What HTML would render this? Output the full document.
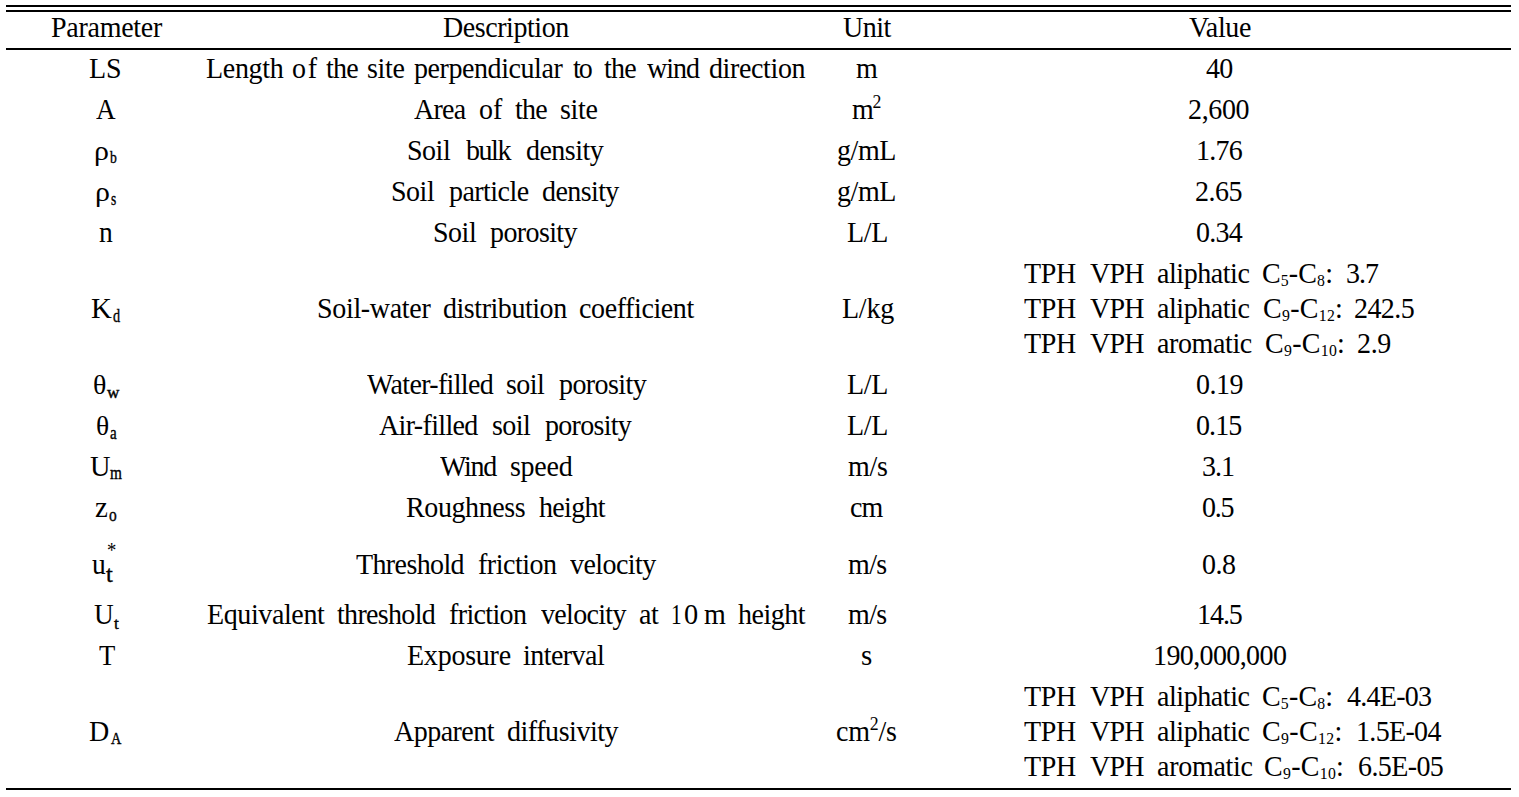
<!DOCTYPE html>
<html><head><meta charset="utf-8"><style>
html,body{margin:0;padding:0;background:#fff;}
body{width:1519px;height:797px;position:relative;overflow:hidden;}
.r{position:absolute;left:6px;width:1505px;background:#000;}
.t{position:absolute;white-space:nowrap;font-family:"Liberation Serif",serif;font-size:28px;line-height:28px;color:#000;font-variant-ligatures:none;transform-origin:0 0;}
.s{position:relative;line-height:0;}
</style></head><body>
<div class="r" style="top:5px;height:2px"></div><div class="r" style="top:10px;height:2px"></div><div class="r" style="top:48px;height:2px"></div><div class="r" style="top:788px;height:2px"></div>
<div class="t" id="h1" style="left:50.58px;top:14.00px;font-size:28.4px;letter-spacing:-0.278px;transform:scaleX(0.9859)">Parameter</div>
<div class="t" id="h2" style="left:442.58px;top:14.00px;font-size:28.4px;letter-spacing:-0.440px;transform:scaleX(0.9859)">Description</div>
<div class="t" id="h3" style="left:843.00px;top:14.00px;font-size:28.4px;letter-spacing:-0.513px;transform:scaleX(0.9859)">Unit</div>
<div class="t" id="h4" style="left:1189.00px;top:14.00px;font-size:28.4px;letter-spacing:-0.322px;transform:scaleX(0.9859)">Value</div>
<div class="t" id="p1" style="left:89.27px;top:55.00px;font-size:28.4px;letter-spacing:-0.021px;transform:scaleX(0.9859)">LS</div>
<div class="t" id="p2" style="left:95.70px;top:96.00px;font-size:28.4px;transform:scaleX(0.9562)">A</div>
<div class="t" id="p5" style="left:99.20px;top:219.00px;font-size:28.4px;transform:scaleX(0.9692)">n</div>
<div class="t" id="p13" style="left:98.60px;top:642.00px;font-size:28.4px;transform:scaleX(0.9385)">T</div>
<div class="t" id="p3m" style="left:94.49px;top:137.00px;font-size:28.08px;transform:scaleX(1.0685)">&rho;</div>
<div class="t" id="p3s" style="left:110.30px;top:143.46px;font-size:17.478529198236266px;transform:scaleX(0.7818);-webkit-text-stroke:0.4px #000">b</div>
<div class="t" id="p4m" style="left:95.49px;top:178.00px;font-size:28.08px;transform:scaleX(1.0685)">&rho;</div>
<div class="t" id="p4s" style="left:111.06px;top:184.96px;font-size:18.34865132072097px;transform:scaleX(0.7310);-webkit-text-stroke:0.4px #000">s</div>
<div class="t" id="p6m" style="left:90.88px;top:295.00px;font-size:28.4px;transform:scaleX(1.0186)">K</div>
<div class="t" id="p6s" style="left:113.39px;top:302.30px;font-size:18.455364086009826px;transform:scaleX(0.7716);-webkit-text-stroke:0.4px #000">d</div>
<div class="t" id="p7m" style="left:92.86px;top:371.00px;font-size:28.037098053491697px;transform:scaleX(0.9959)">&theta;</div>
<div class="t" id="p7s" style="left:106.80px;top:379.20px;font-size:15.784438775510202px;transform:scaleX(1.0885);-webkit-text-stroke:0.4px #000">w</div>
<div class="t" id="p8m" style="left:95.84px;top:412.00px;font-size:28.037098053491697px;transform:scaleX(0.9825)">&theta;</div>
<div class="t" id="p8s" style="left:110.09px;top:418.78px;font-size:18.701993639278935px;transform:scaleX(0.8060);-webkit-text-stroke:0.4px #000">a</div>
<div class="t" id="p9m" style="left:89.80px;top:453.00px;font-size:28.4px;transform:scaleX(0.9998)">U</div>
<div class="t" id="p9s" style="left:109.50px;top:459.10px;font-size:19.191005020421674px;transform:scaleX(0.7973);-webkit-text-stroke:0.4px #000">m</div>
<div class="t" id="p10m" style="left:94.86px;top:494.00px;font-size:28.4px;transform:scaleX(1.0202)">z</div>
<div class="t" id="p10s" style="left:108.69px;top:500.96px;font-size:18.277958711015486px;transform:scaleX(0.8458);-webkit-text-stroke:0.4px #000">o</div>
<div class="t" id="p11m" style="left:92.40px;top:551.20px;font-size:28.4px;transform:scaleX(0.9694)">u</div>
<div class="t" id="p11s" style="left:106.00px;top:561.48px;font-size:22.612814692915705px;transform:scaleX(1.0733);-webkit-text-stroke:0.4px #000">t</div>
<div class="t" id="p11a" style="left:107.00px;top:535.80px;font-size:21.844087282265267px;transform:scaleX(0.8528)">*</div>
<div class="t" id="p12m" style="left:94.00px;top:601.00px;font-size:28.4px;transform:scaleX(0.9620)">U</div>
<div class="t" id="p12s" style="left:114.10px;top:609.30px;font-size:17.695692887418833px;transform:scaleX(0.9731);-webkit-text-stroke:0.4px #000">t</div>
<div class="t" id="p14m" style="left:89.00px;top:718.00px;font-size:28.4px;transform:scaleX(0.9887)">D</div>
<div class="t" id="p14s" style="left:110.50px;top:724.98px;font-size:17.362100715007738px;transform:scaleX(0.8223);-webkit-text-stroke:0.4px #000">A</div>
<div class="t" id="d1_0" style="left:205.58px;top:55.00px;font-size:28.4px;letter-spacing:-0.306px;transform:scaleX(0.9859)">Length</div>
<div class="t" id="d1_1" style="left:292.36px;top:55.00px;font-size:28.4px;letter-spacing:1.725px;transform:scaleX(0.9859)">of</div>
<div class="t" id="d1_2" style="left:326.00px;top:55.00px;font-size:28.4px;letter-spacing:-0.771px;transform:scaleX(0.9859)">the</div>
<div class="t" id="d1_3" style="left:367.45px;top:55.00px;font-size:28.4px;letter-spacing:-0.339px;transform:scaleX(0.9859)">site</div>
<div class="t" id="d1_4" style="left:414.00px;top:55.00px;font-size:28.4px;letter-spacing:-0.432px;transform:scaleX(0.9859)">perpendicular</div>
<div class="t" id="d1_5" style="left:573.00px;top:55.00px;font-size:28.4px;letter-spacing:-2.049px;transform:scaleX(0.9859)">to</div>
<div class="t" id="d1_6" style="left:604.00px;top:55.00px;font-size:28.4px;letter-spacing:-0.737px;transform:scaleX(0.9859)">the</div>
<div class="t" id="d1_7" style="left:647.00px;top:55.00px;font-size:28.4px;letter-spacing:-1.031px;transform:scaleX(0.9859)">wind</div>
<div class="t" id="d1_8" style="left:708.52px;top:55.00px;font-size:28.4px;letter-spacing:-0.379px;transform:scaleX(0.9859)">direction</div>
<div class="t" id="d2_0" style="left:414.00px;top:96.00px;font-size:28.4px;letter-spacing:-0.757px;transform:scaleX(0.9859)">Area</div>
<div class="t" id="d2_1" style="left:479.36px;top:96.00px;font-size:28.4px;letter-spacing:0.127px;transform:scaleX(0.9859)">of</div>
<div class="t" id="d2_2" style="left:515.00px;top:96.00px;font-size:28.4px;letter-spacing:-0.737px;transform:scaleX(0.9859)">the</div>
<div class="t" id="d2_3" style="left:560.45px;top:96.00px;font-size:28.4px;letter-spacing:-0.284px;transform:scaleX(0.9859)">site</div>
<div class="t" id="d3_0" style="left:406.58px;top:137.00px;font-size:28.4px;letter-spacing:-0.480px;transform:scaleX(0.9859)">Soil</div>
<div class="t" id="d3_1" style="left:466.00px;top:137.00px;font-size:28.4px;letter-spacing:-1.462px;transform:scaleX(0.9859)">bulk</div>
<div class="t" id="d3_2" style="left:525.52px;top:137.00px;font-size:28.4px;letter-spacing:-0.530px;transform:scaleX(0.9859)">density</div>
<div class="t" id="d4_0" style="left:390.58px;top:178.00px;font-size:28.4px;letter-spacing:-0.480px;transform:scaleX(0.9859)">Soil</div>
<div class="t" id="d4_1" style="left:449.00px;top:178.00px;font-size:28.4px;letter-spacing:-0.550px;transform:scaleX(0.9859)">particle</div>
<div class="t" id="d4_2" style="left:541.52px;top:178.00px;font-size:28.4px;letter-spacing:-0.593px;transform:scaleX(0.9859)">density</div>
<div class="t" id="d5_0" style="left:432.58px;top:219.00px;font-size:28.4px;letter-spacing:-0.480px;transform:scaleX(0.9859)">Soil</div>
<div class="t" id="d5_1" style="left:490.00px;top:219.00px;font-size:28.4px;letter-spacing:-0.611px;transform:scaleX(0.9859)">porosity</div>
<div class="t" id="d6_0" style="left:316.58px;top:295.00px;font-size:28.4px;letter-spacing:-0.321px;transform:scaleX(0.9859)">Soil-water</div>
<div class="t" id="d6_1" style="left:442.52px;top:295.00px;font-size:28.4px;letter-spacing:-0.456px;transform:scaleX(0.9859)">distribution</div>
<div class="t" id="d6_2" style="left:578.99px;top:295.00px;font-size:28.4px;letter-spacing:-0.402px;transform:scaleX(0.9859)">coefficient</div>
<div class="t" id="d7_0" style="left:367.00px;top:371.00px;font-size:28.4px;letter-spacing:-0.675px;transform:scaleX(0.9859)">Water-filled</div>
<div class="t" id="d7_1" style="left:506.45px;top:371.00px;font-size:28.4px;letter-spacing:-0.588px;transform:scaleX(0.9859)">soil</div>
<div class="t" id="d7_2" style="left:559.00px;top:371.00px;font-size:28.4px;letter-spacing:-0.584px;transform:scaleX(0.9859)">porosity</div>
<div class="t" id="d8_0" style="left:379.00px;top:412.00px;font-size:28.4px;letter-spacing:-0.654px;transform:scaleX(0.9859)">Air-filled</div>
<div class="t" id="d8_1" style="left:492.45px;top:412.00px;font-size:28.4px;letter-spacing:-0.588px;transform:scaleX(0.9859)">soil</div>
<div class="t" id="d8_2" style="left:545.00px;top:412.00px;font-size:28.4px;letter-spacing:-0.716px;transform:scaleX(0.9859)">porosity</div>
<div class="t" id="d9_0" style="left:440.00px;top:453.00px;font-size:28.4px;letter-spacing:-1.251px;transform:scaleX(0.9859)">Wind</div>
<div class="t" id="d9_1" style="left:510.45px;top:453.00px;font-size:28.4px;letter-spacing:-0.279px;transform:scaleX(0.9859)">speed</div>
<div class="t" id="d10_0" style="left:405.58px;top:494.00px;font-size:28.4px;letter-spacing:-0.395px;transform:scaleX(0.9859)">Roughness</div>
<div class="t" id="d10_1" style="left:539.00px;top:494.00px;font-size:28.4px;letter-spacing:-0.685px;transform:scaleX(0.9859)">height</div>
<div class="t" id="d11_0" style="left:356.00px;top:551.00px;font-size:28.4px;letter-spacing:-0.618px;transform:scaleX(0.9859)">Threshold</div>
<div class="t" id="d11_1" style="left:478.27px;top:551.00px;font-size:28.4px;letter-spacing:-0.489px;transform:scaleX(0.9859)">friction</div>
<div class="t" id="d11_2" style="left:570.00px;top:551.00px;font-size:28.4px;letter-spacing:-0.585px;transform:scaleX(0.9859)">velocity</div>
<div class="t" id="d12_0" style="left:206.58px;top:601.00px;font-size:28.4px;letter-spacing:-0.391px;transform:scaleX(0.9859)">Equivalent</div>
<div class="t" id="d12_1" style="left:337.00px;top:601.00px;font-size:28.4px;letter-spacing:-0.688px;transform:scaleX(0.9859)">threshold</div>
<div class="t" id="d12_2" style="left:449.27px;top:601.00px;font-size:28.4px;letter-spacing:-0.641px;transform:scaleX(0.9859)">friction</div>
<div class="t" id="d12_3" style="left:541.00px;top:601.00px;font-size:28.4px;letter-spacing:-0.688px;transform:scaleX(0.9859)">velocity</div>
<div class="t" id="d12_4" style="left:638.52px;top:601.00px;font-size:28.4px;letter-spacing:-0.554px;transform:scaleX(0.9859)">at</div>
<div class="t" id="d12_5" style="left:670.86px;top:601.00px;font-size:28.4px;transform:scaleX(0.7500)">1</div>
<div class="t" id="d12_6" style="left:683.90px;top:601.00px;font-size:28.4px;transform:scaleX(0.9988)">0</div>
<div class="t" id="d12_7" style="left:704.30px;top:601.00px;font-size:28.4px;transform:scaleX(0.9870)">m</div>
<div class="t" id="d12_8" style="left:738.30px;top:601.00px;font-size:28.4px;letter-spacing:-0.493px;transform:scaleX(0.9859)">height</div>
<div class="t" id="d13_0" style="left:406.58px;top:642.00px;font-size:28.4px;letter-spacing:-0.233px;transform:scaleX(0.9859)">Exposure</div>
<div class="t" id="d13_1" style="left:523.00px;top:642.00px;font-size:28.4px;letter-spacing:-0.545px;transform:scaleX(0.9859)">interval</div>
<div class="t" id="d14_0" style="left:394.00px;top:718.00px;font-size:28.4px;letter-spacing:-0.526px;transform:scaleX(0.9859)">Apparent</div>
<div class="t" id="d14_1" style="left:506.52px;top:718.00px;font-size:28.4px;letter-spacing:-0.457px;transform:scaleX(0.9859)">diffusivity</div>
<div class="t" id="u1" style="left:856.00px;top:55.00px;font-size:28.4px;transform:scaleX(0.9870)">m</div>
<div class="t" id="u2" style="left:852.00px;top:96.00px;font-size:28.4px;letter-spacing:-1.220px;transform:scaleX(0.9859)">m<span class="s" style="font-size:18px;top:-11px">2</span></div>
<div class="t" id="u3" style="left:837.38px;top:137.00px;font-size:28.4px;letter-spacing:-0.431px;transform:scaleX(0.9859)">g/mL</div>
<div class="t" id="u4" style="left:837.38px;top:178.00px;font-size:28.4px;letter-spacing:-0.431px;transform:scaleX(0.9859)">g/mL</div>
<div class="t" id="u5" style="left:846.58px;top:219.00px;font-size:28.4px;letter-spacing:-0.256px;transform:scaleX(0.9859)">L/L</div>
<div class="t" id="u6" style="left:841.58px;top:295.00px;font-size:28.4px;letter-spacing:-0.245px;transform:scaleX(0.9859)">L/kg</div>
<div class="t" id="u7" style="left:846.58px;top:371.00px;font-size:28.4px;letter-spacing:-0.256px;transform:scaleX(0.9859)">L/L</div>
<div class="t" id="u8" style="left:846.58px;top:412.00px;font-size:28.4px;letter-spacing:-0.256px;transform:scaleX(0.9859)">L/L</div>
<div class="t" id="u9" style="left:848.00px;top:453.00px;font-size:28.4px;letter-spacing:-0.306px;transform:scaleX(0.9859)">m/s</div>
<div class="t" id="u10" style="left:849.99px;top:494.00px;font-size:28.4px;letter-spacing:-0.847px;transform:scaleX(0.9859)">cm</div>
<div class="t" id="u11" style="left:848.00px;top:551.00px;font-size:28.4px;letter-spacing:-0.612px;transform:scaleX(0.9859)">m/s</div>
<div class="t" id="u12" style="left:848.00px;top:601.00px;font-size:28.4px;letter-spacing:-0.612px;transform:scaleX(0.9859)">m/s</div>
<div class="t" id="u13" style="left:861.18px;top:642.00px;font-size:28.4px;transform:scaleX(1.0204)">s</div>
<div class="t" id="u14" style="left:835.99px;top:718.00px;font-size:28.4px;letter-spacing:-0.222px;transform:scaleX(0.9859)">cm<span class="s" style="font-size:18px;top:-11px">2</span>/s</div>
<div class="t" id="v1" style="left:1206.00px;top:55.00px;font-size:28.4px;letter-spacing:-0.672px;transform:scaleX(0.9859)">40</div>
<div class="t" id="v2" style="left:1188.38px;top:96.00px;font-size:28.4px;letter-spacing:-0.375px;transform:scaleX(0.9859)">2,600</div>
<div class="t" id="v3" style="left:1196.15px;top:137.00px;font-size:28.4px;letter-spacing:-0.785px;transform:scaleX(0.9859)">1.76</div>
<div class="t" id="v4" style="left:1195.38px;top:178.00px;font-size:28.4px;letter-spacing:-0.500px;transform:scaleX(0.9859)">2.65</div>
<div class="t" id="v5" style="left:1196.36px;top:219.00px;font-size:28.4px;letter-spacing:-0.779px;transform:scaleX(0.9859)">0.34</div>
<div class="t" id="v7" style="left:1196.36px;top:371.00px;font-size:28.4px;letter-spacing:-0.517px;transform:scaleX(0.9859)">0.19</div>
<div class="t" id="v8" style="left:1196.36px;top:412.00px;font-size:28.4px;letter-spacing:-0.888px;transform:scaleX(0.9859)">0.15</div>
<div class="t" id="v9" style="left:1202.46px;top:453.00px;font-size:28.4px;letter-spacing:-1.020px;transform:scaleX(0.9859)">3.1</div>
<div class="t" id="v10" style="left:1202.36px;top:494.00px;font-size:28.4px;letter-spacing:-1.214px;transform:scaleX(0.9859)">0.5</div>
<div class="t" id="v11" style="left:1202.36px;top:551.00px;font-size:28.4px;letter-spacing:-0.514px;transform:scaleX(0.9859)">0.8</div>
<div class="t" id="v12" style="left:1197.15px;top:601.00px;font-size:28.4px;letter-spacing:-1.065px;transform:scaleX(0.9859)">14.5</div>
<div class="t" id="v13" style="left:1153.15px;top:642.00px;font-size:28.4px;letter-spacing:-0.616px;transform:scaleX(0.9859)">190,000,000</div>
<div class="t" id="v6a_0" style="left:1024.00px;top:260.00px;font-size:28.4px;letter-spacing:-0.383px;transform:scaleX(0.9859)">TPH</div>
<div class="t" id="v6a_1" style="left:1090.00px;top:260.00px;font-size:28.4px;letter-spacing:-0.750px;transform:scaleX(0.9859)">VPH</div>
<div class="t" id="v6a_2" style="left:1156.52px;top:260.00px;font-size:28.4px;letter-spacing:-0.441px;transform:scaleX(0.9859)">aliphatic</div>
<div class="t" id="v6a_3" style="left:1262.45px;top:260.00px;font-size:28.4px;letter-spacing:0.133px;transform:scaleX(0.9859)">C<span class="s" style="font-size:16px;top:3.3px">5</span>-C<span class="s" style="font-size:16px;top:3.3px">8</span>:</div>
<div class="t" id="v6a_4" style="left:1346.46px;top:260.00px;font-size:28.4px;letter-spacing:-1.023px;transform:scaleX(0.9859)">3.7</div>
<div class="t" id="v6b_0" style="left:1024.00px;top:295.00px;font-size:28.4px;letter-spacing:-0.383px;transform:scaleX(0.9859)">TPH</div>
<div class="t" id="v6b_1" style="left:1090.00px;top:295.00px;font-size:28.4px;letter-spacing:-0.750px;transform:scaleX(0.9859)">VPH</div>
<div class="t" id="v6b_2" style="left:1156.52px;top:295.00px;font-size:28.4px;letter-spacing:-0.441px;transform:scaleX(0.9859)">aliphatic</div>
<div class="t" id="v6b_3" style="left:1263.45px;top:295.00px;font-size:28.4px;letter-spacing:0.298px;transform:scaleX(0.9859)">C<span class="s" style="font-size:16px;top:3.3px">9</span>-C<span class="s" style="font-size:16px;top:3.3px">12</span>:</div>
<div class="t" id="v6b_4" style="left:1354.38px;top:295.00px;font-size:28.4px;letter-spacing:-0.573px;transform:scaleX(0.9859)">242.5</div>
<div class="t" id="v6c_0" style="left:1024.00px;top:330.00px;font-size:28.4px;letter-spacing:-0.383px;transform:scaleX(0.9859)">TPH</div>
<div class="t" id="v6c_1" style="left:1090.00px;top:330.00px;font-size:28.4px;letter-spacing:-0.750px;transform:scaleX(0.9859)">VPH</div>
<div class="t" id="v6c_2" style="left:1156.52px;top:330.00px;font-size:28.4px;letter-spacing:-0.394px;transform:scaleX(0.9859)">aromatic</div>
<div class="t" id="v6c_3" style="left:1265.45px;top:330.00px;font-size:28.4px;letter-spacing:0.298px;transform:scaleX(0.9859)">C<span class="s" style="font-size:16px;top:3.3px">9</span>-C<span class="s" style="font-size:16px;top:3.3px">10</span>:</div>
<div class="t" id="v6c_4" style="left:1357.38px;top:330.00px;font-size:28.4px;letter-spacing:-0.355px;transform:scaleX(0.9859)">2.9</div>
<div class="t" id="v14a_0" style="left:1024.00px;top:683.00px;font-size:28.4px;letter-spacing:-0.383px;transform:scaleX(0.9859)">TPH</div>
<div class="t" id="v14a_1" style="left:1090.00px;top:683.00px;font-size:28.4px;letter-spacing:-0.750px;transform:scaleX(0.9859)">VPH</div>
<div class="t" id="v14a_2" style="left:1156.52px;top:683.00px;font-size:28.4px;letter-spacing:-0.440px;transform:scaleX(0.9859)">aliphatic</div>
<div class="t" id="v14a_3" style="left:1262.45px;top:683.00px;font-size:28.4px;letter-spacing:0.162px;transform:scaleX(0.9859)">C<span class="s" style="font-size:16px;top:3.3px">5</span>-C<span class="s" style="font-size:16px;top:3.3px">8</span>:</div>
<div class="t" id="v14a_4" style="left:1347.00px;top:683.00px;font-size:28.4px;letter-spacing:-0.728px;transform:scaleX(0.9859)">4.4E-03</div>
<div class="t" id="v14b_0" style="left:1024.00px;top:718.00px;font-size:28.4px;letter-spacing:-0.383px;transform:scaleX(0.9859)">TPH</div>
<div class="t" id="v14b_1" style="left:1090.00px;top:718.00px;font-size:28.4px;letter-spacing:-0.750px;transform:scaleX(0.9859)">VPH</div>
<div class="t" id="v14b_2" style="left:1156.52px;top:718.00px;font-size:28.4px;letter-spacing:-0.440px;transform:scaleX(0.9859)">aliphatic</div>
<div class="t" id="v14b_3" style="left:1262.45px;top:718.00px;font-size:28.4px;letter-spacing:0.353px;transform:scaleX(0.9859)">C<span class="s" style="font-size:16px;top:3.3px">9</span>-C<span class="s" style="font-size:16px;top:3.3px">12</span>:</div>
<div class="t" id="v14b_4" style="left:1356.15px;top:718.00px;font-size:28.4px;letter-spacing:-0.667px;transform:scaleX(0.9859)">1.5E-04</div>
<div class="t" id="v14c_0" style="left:1024.00px;top:753.00px;font-size:28.4px;letter-spacing:-0.383px;transform:scaleX(0.9859)">TPH</div>
<div class="t" id="v14c_1" style="left:1090.00px;top:753.00px;font-size:28.4px;letter-spacing:-0.750px;transform:scaleX(0.9859)">VPH</div>
<div class="t" id="v14c_2" style="left:1156.52px;top:753.00px;font-size:28.4px;letter-spacing:-0.278px;transform:scaleX(0.9859)">aromatic</div>
<div class="t" id="v14c_3" style="left:1264.45px;top:753.00px;font-size:28.4px;letter-spacing:0.298px;transform:scaleX(0.9859)">C<span class="s" style="font-size:16px;top:3.3px">9</span>-C<span class="s" style="font-size:16px;top:3.3px">10</span>:</div>
<div class="t" id="v14c_4" style="left:1357.53px;top:753.00px;font-size:28.4px;letter-spacing:-0.597px;transform:scaleX(0.9859)">6.5E-05</div>
</body></html>
